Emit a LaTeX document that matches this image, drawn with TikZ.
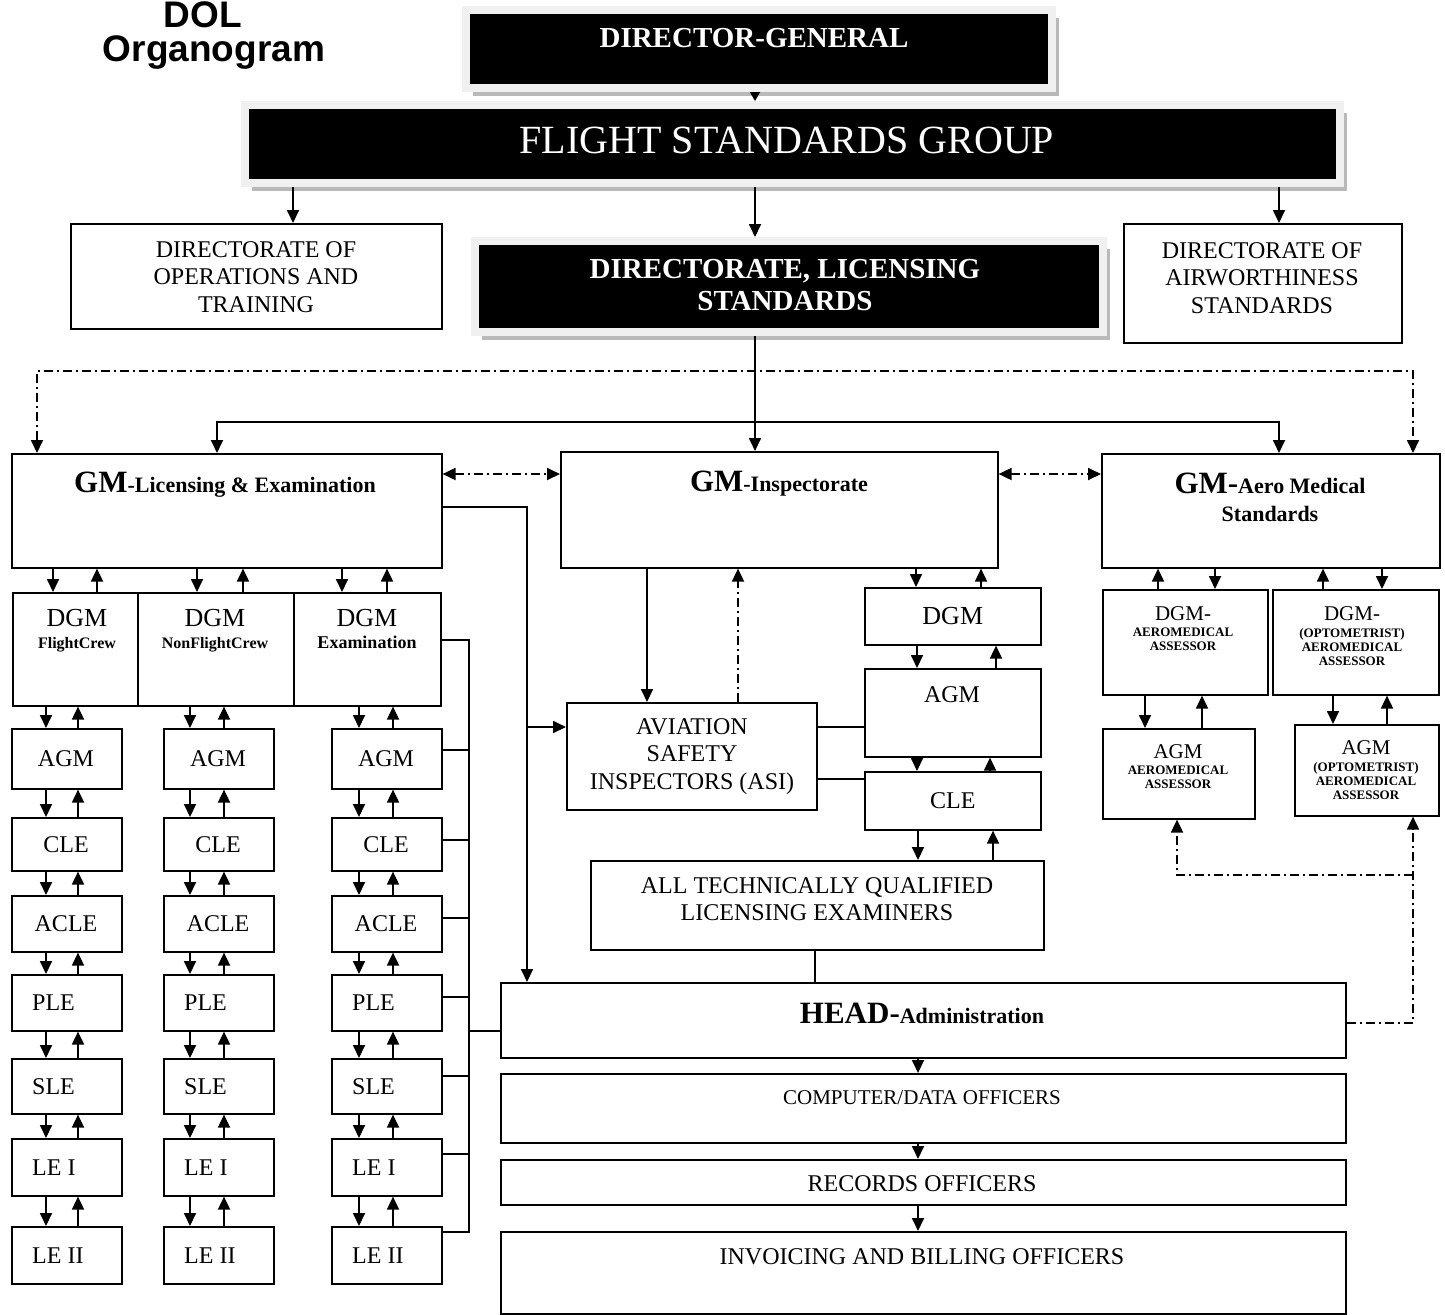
\documentclass[tikz,border=0pt]{standalone}
\usepackage{fontspec}
\setmainfont{Liberation Serif}
\newfontfamily\titlefont{Liberation Sans}
\usetikzlibrary{arrows.meta,shadows}

\tikzset{
  box/.style={draw, line width=1.6pt, rectangle, inner sep=0pt, anchor=north west},
  sz/.style 2 args={minimum width=#1pt, minimum height=#2pt},
  blackbox/.style={box, fill=black, draw=gray!12, line width=8pt,
    drop shadow={shadow xshift=7pt, shadow yshift=-8pt, fill=gray!55, opacity=1}},
  heading/.style={inner sep=0pt, anchor=base, font=\titlefont\bfseries\fontsize{37}{42}\selectfont},
  lbl/.style={inner sep=0pt, align=center, font=\fontsize{24}{27.5}\selectfont},
  blbl/.style={lbl, text=white, font=\bfseries\fontsize{29}{32}\selectfont},
  gmlbl/.style={lbl, font=\bfseries\fontsize{22}{28}\selectfont},
  smallbold/.style={inner sep=0pt, align=center, font=\bfseries\fontsize{13}{14}\selectfont},
  link/.style={line width=1.8pt},
  branch/.style={line width=1.2pt},
  arr/.style={link, -{Triangle[length=13pt,width=12pt]}},
  dbl/.style={link, {Triangle[length=13pt,width=12pt]}-{Triangle[length=13pt,width=12pt]}},
  dd/.style={link, dash pattern=on 9pt off 4pt on 2pt off 4pt},
}

\begin{document}
\begin{tikzpicture}[x=1pt, y=-1pt]
  \useasboundingbox (0,0) rectangle (1445,1314);

  % title
  \node[heading] (dol) at (203,28) {DOL};
  \node[heading] (organo) at (214,62) {Organogram};

  % top of the group
  \node[blackbox, sz={586}{78}] (dg) at (462,6) {};
  \node[blbl, anchor=base] (dg-t) at (754,48) {DIRECTOR-GENERAL};
  \node[blackbox, sz={1095}{78}] (fsg) at (241,101) {};
  \node[lbl, text=white, font=\fontsize{40}{44}\selectfont, anchor=base] (fsg-t) at (787,153) {FLIGHT STANDARDS GROUP};
  \draw[arr, -{Triangle[length=9pt,width=10pt]}] (755,0 |- dg.south) -- (755,0 |- fsg.north);

  \node[box, sz={371}{105}] (ops) at (70,223) {};
  \node[lbl, anchor=north] (ops-t) at (256,241) {DIRECTORATE OF\\OPERATIONS AND\\TRAINING};
  \node[blackbox, sz={628}{91}] (dls) at (471,237) {};
  \node[blbl, anchor=north] (dls-t) at (785,259) {DIRECTORATE, LICENSING\\STANDARDS};
  \node[box, sz={278}{119}] (aw) at (1123,223) {};
  \node[lbl, anchor=north] (aw-t) at (1262,242) {DIRECTORATE OF\\AIRWORTHINESS\\STANDARDS};
  \draw[arr] (293,0 |- fsg.south) -- (293,0 |- ops.north);
  \draw[arr] (755,0 |- fsg.south) -- (755,0 |- dls.north);
  \draw[arr] (1279,0 |- fsg.south) -- (1279,0 |- aw.north);

  % general managers
  \node[box, sz={430}{114}] (gmle) at (11,453) {};
  \node[gmlbl, anchor=base] (gmle-t) at (225,492) {{\fontsize{31}{34}\selectfont GM}-Licensing \& Examination};
  \node[box, sz={437}{116}] (gmi) at (560,451) {};
  \node[gmlbl, anchor=base] (gmi-t) at (779,491) {{\fontsize{31}{34}\selectfont GM}-Inspectorate};
  \node[box, sz={338}{114}] (gma) at (1101,453) {};
  \node[gmlbl, anchor=north] (gma-t) at (1270,473) {{\fontsize{31}{34}\selectfont GM-}Aero Medical\\Standards};

  \coordinate (busl) at (217,422);
  \coordinate (busr) at (1279,422);
  \draw[arr] (755,0 |- dls.south) -- (755,0 |- gmi.north);
  \draw[dbl] (busl |- gmle.north) -- (busl) -- (busr) -- (busr |- gma.north);
  \draw[dd, {Triangle[length=13pt,width=12pt]}-{Triangle[length=13pt,width=12pt]}]
    (37,0 |- gmle.north) -- (37,371) -- (1413,371) -- (1413,0 |- gma.north);
  \draw[dd, {Triangle[length=13pt,width=12pt]}-{Triangle[length=13pt,width=12pt]}] (gmle.east |- 0,474) -- (gmi.west |- 0,474);
  \draw[dd, {Triangle[length=13pt,width=12pt]}-{Triangle[length=13pt,width=12pt]}] (gmi.east |- 0,474) -- (gma.west |- 0,474);

  % licensing & examination
  \node[box, sz={125}{113}] (dgm1) at (12,592) {};
  \node[box, sz={156}{113}] (dgm2) at (137,592) {};
  \node[box, sz={147}{113}] (dgm3) at (293,592) {};
  \foreach \n/\cx/\sub/\fs in {dgm1/77/FlightCrew/16, dgm2/215/NonFlightCrew/16, dgm3/367/Examination/18} {
    \node[lbl, font=\fontsize{26}{30}\selectfont, anchor=base] (\n-t) at (\cx,626) {DGM};
    \node[inner sep=0pt, font=\bfseries\fontsize{\fs}{20}\selectfont, anchor=base] (\n-s) at (\cx,648) {\sub};
  }
  \foreach \d/\u in {53/97, 197/243, 342/387} {
    \draw[arr] (\d,0 |- gmle.south) -- (\d,0 |- dgm1.north);
    \draw[arr] (\u,0 |- dgm1.north) -- (\u,0 |- gmle.south);
  }

  \foreach \c/\cx in {1/11, 2/163, 3/331} {
    \foreach \r/\top/\h/\lab/\dx/\an in {1/728/60/AGM/55/center, 2/817/53/CLE/55/center,
        3/895/56/ACLE/55/center, 4/974/56/PLE/21/west, 5/1058/55/SLE/21/west,
        6/1138/57/LE I/21/west, 7/1226/57/LE II/21/west} {
      \node[box, sz={110}{\h}] (c\c-\r) at (\cx,\top) {};
      \node[lbl, anchor=\an] (c\c-\r-t) at ([xshift=\dx pt]c\c-\r.west) {\lab};
    }
  }
  \foreach \c/\xd/\xu in {1/46/78, 2/190/224, 3/359/393} {
    \draw[arr] (\xd,0 |- dgm\c.south) -- (\xd,0 |- c\c-1.north);
    \draw[arr] (\xu,0 |- c\c-1.north) -- (\xu,0 |- dgm\c.south);
    \foreach \r [count=\s from 2] in {1,...,6} {
      \draw[arr] (\xd,0 |- c\c-\r.south) -- (\xd,0 |- c\c-\s.north);
      \draw[arr] (\xu,0 |- c\c-\s.north) -- (\xu,0 |- c\c-\r.south);
    }
  }

  % inspectorate
  \node[box, sz={250}{107}] (asi) at (566,702) {};
  \node[lbl, anchor=north] (asi-t) at (692,718) {AVIATION\\SAFETY\\INSPECTORS (ASI)};
  \node[box, sz={176}{57}] (idgm) at (864,587) {};
  \node[lbl, font=\fontsize{26}{30}\selectfont] (idgm-t) at (idgm.center) {DGM};
  \node[box, sz={176}{88}] (iagm) at (864,668) {};
  \node[lbl, anchor=base] (iagm-t) at (952,702) {AGM};
  \node[box, sz={176}{58}] (icle) at (864,771) {};
  \node[lbl] (icle-t) at (icle.center) {CLE};
  \node[box, sz={453}{89}] (allq) at (590,860) {};
  \node[lbl, anchor=north] (allq-t) at (817,877) {ALL TECHNICALLY QUALIFIED\\LICENSING EXAMINERS};

  \draw[arr] (647,0 |- gmi.south) -- (647,0 |- asi.north);
  \draw[dd, -{Triangle[length=13pt,width=12pt]}] (738,0 |- asi.north) -- (738,0 |- gmi.south);
  \draw[branch] (asi.east |- 0,727) -- (iagm.west |- 0,727);
  \draw[branch] (asi.east |- 0,779) -- (icle.west |- 0,779);
  \foreach \a/\b/\d/\u in {gmi/idgm/916/981, idgm/iagm/917/996, iagm/icle/917/990, icle/allq/918/993} {
    \draw[arr] (\d,0 |- \a.south) -- (\d,0 |- \b.north);
    \draw[arr] (\u,0 |- \b.north) -- (\u,0 |- \a.south);
  }

  % administration
  \node[box, sz={845}{75}] (head) at (500,982) {};
  \node[gmlbl, anchor=base] (head-t) at (922,1023) {{\fontsize{31}{34}\selectfont HEAD-}Administration};
  \node[box, sz={845}{69}] (comp) at (500,1073) {};
  \node[lbl, font=\fontsize{21}{24}\selectfont, anchor=base] (comp-t) at (922,1104) {COMPUTER/DATA OFFICERS};
  \node[box, sz={845}{45}] (rec) at (500,1159) {};
  \node[lbl, anchor=base] (rec-t) at (922,1191) {RECORDS OFFICERS};
  \node[box, sz={845}{82}] (inv) at (500,1231) {};
  \node[lbl, anchor=base] (inv-t) at (922,1264) {INVOICING AND BILLING OFFICERS};
  \foreach \a/\b in {head/comp, comp/rec, rec/inv}
    \draw[arr] (918,0 |- \a.south) -- (918,0 |- \b.north);
  \draw[branch] (815,0 |- allq.south) -- (815,0 |- head.north);

  \coordinate (lbus) at (527,507);
  \draw[arr] (gmle.east |- lbus) -- (lbus) -- (lbus |- head.north);
  \draw[arr] (lbus |- 0,727) -- (asi.west |- 0,727);
  \draw[branch] (dgm3.east |- 0,640) -- (469,640) -- (469,1232) -- (c3-7.east |- 0,1232);
  \foreach \r/\y in {1/750, 2/840, 3/918, 4/997, 5/1076, 6/1154}
    \draw[branch] (c3-\r.east |- 0,\y) -- (469,\y);
  \draw[branch] (469,1031) -- (head.west |- 0,1031);

  % aero medical
  \node[box, sz={165}{105}] (adgm1) at (1102,589) {};
  \node[box, sz={166}{105}] (adgm2) at (1272,589) {};
  \node[box, sz={152}{90}] (aagm1) at (1102,728) {};
  \node[box, sz={144}{91}] (aagm2) at (1294,724) {};
  \node[lbl, font=\fontsize{21}{24}\selectfont, anchor=base] (adgm1-t) at (1183,620) {DGM-};
  \node[smallbold, anchor=north] (adgm1-s) at (1183,628) {AEROMEDICAL\\ASSESSOR};
  \node[lbl, font=\fontsize{21}{24}\selectfont, anchor=base] (adgm2-t) at (1352,620) {DGM-};
  \node[smallbold, anchor=north] (adgm2-s) at (1352,628) {(OPTOMETRIST)\\AEROMEDICAL\\ASSESSOR};
  \node[lbl, font=\fontsize{21}{24}\selectfont, anchor=base] (aagm1-t) at (1178,758) {AGM};
  \node[smallbold, anchor=north] (aagm1-s) at (1178,766) {AEROMEDICAL\\ASSESSOR};
  \node[lbl, font=\fontsize{21}{24}\selectfont, anchor=base] (aagm2-t) at (1366,754) {AGM};
  \node[smallbold, anchor=north] (aagm2-s) at (1366,762) {(OPTOMETRIST)\\AEROMEDICAL\\ASSESSOR};
  \foreach \a/\b/\u/\d in {gma/adgm1/1158/1215, gma/adgm2/1323/1382, adgm1/aagm1/1202/1145, adgm2/aagm2/1387/1333} {
    \draw[arr] (\d,0 |- \a.south) -- (\d,0 |- \b.north);
    \draw[arr] (\u,0 |- \b.north) -- (\u,0 |- \a.south);
  }
  \draw[dd, -{Triangle[length=13pt,width=12pt]}] (head.east |- 0,1023) -- (1413,1023) -- (1413,0 |- aagm2.south);
  \draw[dd, -{Triangle[length=13pt,width=12pt]}] (1413,875) -- (1177,875) -- (1177,0 |- aagm1.south);
\end{tikzpicture}
\end{document}
